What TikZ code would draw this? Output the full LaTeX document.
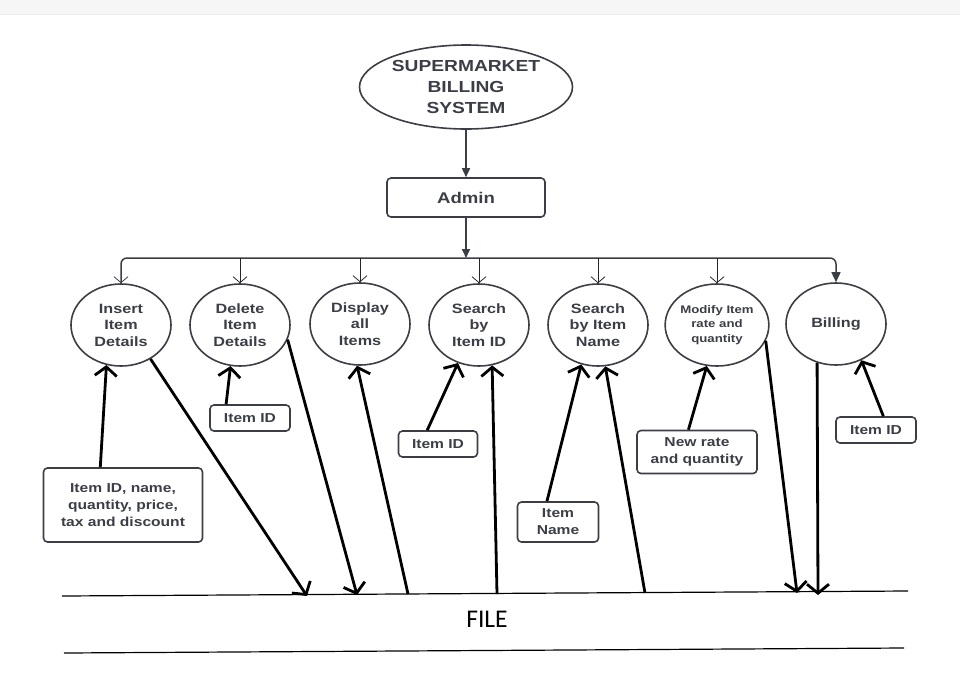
\documentclass[tikz,border=0pt]{standalone}
\usepackage{fontspec}
\setmainfont{Liberation Sans}[FakeStretch=1.2]
\newfontfamily\paintfont{Carlito}
\usetikzlibrary{arrows.meta,shapes.geometric}
\definecolor{inkgray}{HTML}{3B3E46}

\begin{document}
\begin{tikzpicture}[x=1pt, y=-1pt,
  proc/.style={ellipse, draw=inkgray, line width=1.6pt, minimum width=100pt, minimum height=82pt,
    inner sep=0pt, align=center, text=inkgray, font=\fontsize{13.5}{16.5}\selectfont\bfseries},
  datum/.style={rectangle, rounded corners=4pt, draw=inkgray, line width=1.6pt, inner sep=0pt,
    align=center, text=inkgray, font=\fontsize{13}{17}\selectfont\bfseries},
  feed/.style={line width=1pt, draw=black!85, -{Straight Barb[length=6pt,width=14pt,line width=0.8pt]}},
  flow/.style={line width=2.8pt, -{Straight Barb[length=9pt,width=22pt]}}]
  \useasboundingbox (0,0) rectangle (960,683);
  \fill[gray!7] (0,0) rectangle (960,14);
  \draw[gray!15] (0,14) -- (960,14);

  \node[proc, minimum width=213pt, minimum height=84pt, font=\fontsize{16}{21}\selectfont\bfseries] (sys) at (466,87) {SUPERMARKET\\BILLING\\SYSTEM};
  \node[datum, minimum width=158pt, minimum height=39pt, font=\fontsize{15.5}{18}\selectfont\bfseries] (admin) at (466,197.5) {Admin};
  \coordinate (bus) at (466,258);

  \node[proc] (ins) at (121,325) {Insert\\Item\\Details};
  \node[proc] (del) at (240,325) {Delete\\Item\\Details};
  \node[proc] (disp) at (360,324) {Display\\all\\Items};
  \node[proc] (sid) at (479,325) {Search\\by\\Item ID};
  \node[proc] (snm) at (598,325) {Search\\by Item\\Name};
  \node[proc, font=\fontsize{11}{14.3}\selectfont\bfseries] (mod) at (717,325) {Modify Item\\rate and\\quantity};
  \node[proc] (bill) at (836,324) {Billing};

  \node[datum, minimum width=159pt, minimum height=74pt] (insin) at (123,505) {Item ID, name,\\quantity, price,\\tax and discount};
  \node[datum, minimum width=80pt, minimum height=26pt] (delin) at (250,418) {Item ID};
  \node[datum, minimum width=79pt, minimum height=26pt] (sidin) at (438,444) {Item ID};
  \node[datum, minimum width=81pt, minimum height=40pt] (snmin) at (558,522) {Item\\Name};
  \node[datum, minimum width=120pt, minimum height=43pt] (modin) at (697,452) {New rate\\and quantity};
  \node[datum, minimum width=80pt, minimum height=26pt] (billin) at (876,430) {Item ID};

  \node[font=\paintfont\fontsize{25.5}{30}\selectfont] (file) at (487,619) {FILE};
  \draw[line width=1.2pt] (62,596) -- (908,591);
  \draw[line width=1.2pt] (64,653) -- (904,648);
  \coordinate (f1) at (307,596);
  \coordinate (f2) at (357,595);
  \coordinate (f3) at (408,594);
  \coordinate (f4) at (497,594);
  \coordinate (f5) at (645,593);
  \coordinate (f6) at (797,593);
  \coordinate (f7) at (818,595);

  \draw[line width=1.6pt, inkgray, -{Triangle[length=9pt,width=8pt]}] (sys.south) -- (admin.north);
  \draw[line width=1.6pt, inkgray, -{Triangle[length=9pt,width=8pt]}] (admin.south) -- (bus);
  \draw[line width=1.5pt, inkgray, rounded corners=6pt,
    {Straight Barb[length=6pt,width=14pt,line width=0.8pt]}-{Triangle[length=10pt,width=9pt]}]
    (ins.north) |- (bus) -| (bill.north);
  \foreach \n in {del,disp,sid,snm,mod}
    \draw[feed] (bus -| \n.north) -- (\n.north);

  \draw[flow] (insin.121) -- (ins.250);
  \draw[flow] (ins.311) -- (f1);
  \draw[flow] (delin.150) -- (del.257);
  \draw[flow] (del.343) -- (f2);
  \draw[flow] (f3) -- (disp.266);
  \draw[flow] (sidin.128) -- (sid.241);
  \draw[flow] (f4) -- (sid.288);
  \draw[flow] (snmin.118) -- (snm.247);
  \draw[flow] (f5) -- (snm.280);
  \draw[flow] (modin.111) -- (mod.256);
  \draw[flow] (mod.342) -- (f6);
  \draw[flow] (bill.244) -- (f7);
  \draw[flow] (billin.62) -- (bill.305);
\end{tikzpicture}
\end{document}
